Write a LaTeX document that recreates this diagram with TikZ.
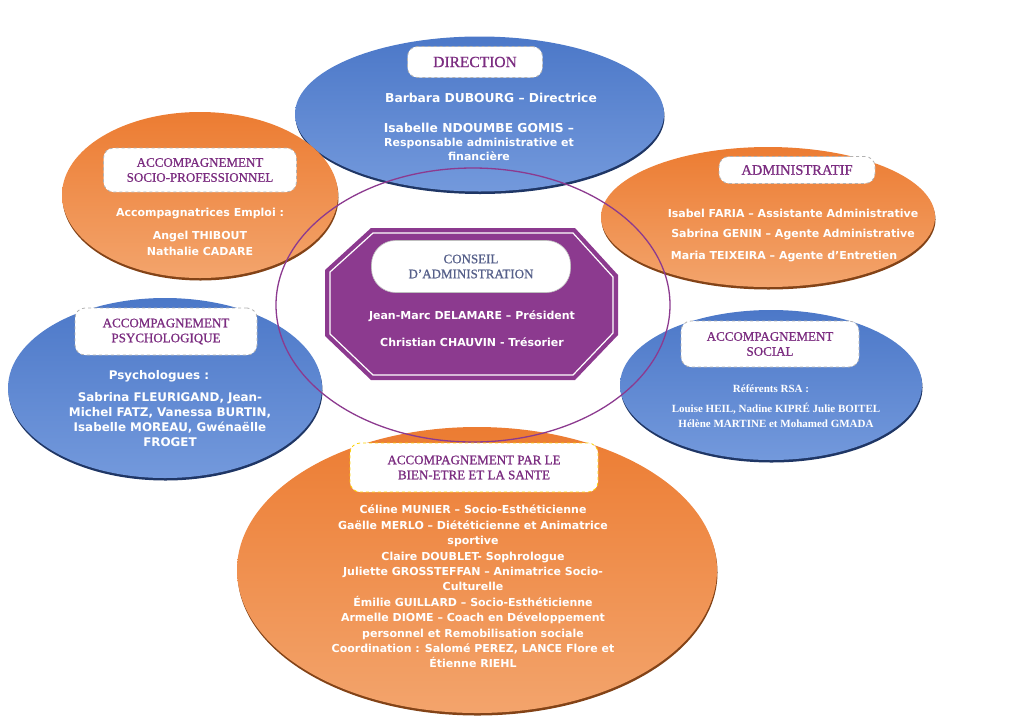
\documentclass[tikz,border=0pt]{standalone}
\usepackage{fontspec}
\setmainfont{Liberation Serif}
\newfontfamily\headfont[FakeBold=0.8]{Liberation Serif}
\newfontfamily\bodyfont{DejaVu Sans}
\usetikzlibrary{shapes.geometric,shadows}
\definecolor{blueT}{HTML}{4C78C8}
\definecolor{blueM}{HTML}{3862B8}
\definecolor{blueB}{HTML}{7399DC}
\definecolor{orT}{HTML}{EC7C32}
\definecolor{orM}{HTML}{EE7A2A}
\definecolor{orB}{HTML}{F3A46C}
\definecolor{hd}{HTML}{7B2C80}
\definecolor{cp}{HTML}{8C3A8F}
\definecolor{cdh}{HTML}{56608A}
\tikzset{
  ell/.style={ellipse, draw=none, inner sep=0pt},
  blueell/.style={ell, top color=blueT, middle color=blueM, bottom color=blueB,
    drop shadow={shadow xshift=0.5pt, shadow yshift=-2.5pt, fill=blueM!55!black, opacity=1}},
  orell/.style={ell, top color=orT, middle color=orM, bottom color=orB,
    drop shadow={shadow xshift=0.5pt, shadow yshift=-2.5pt, fill=orM!55!black, opacity=1}},
  hbox/.style={draw=gray!60, dashed, line width=0.8pt, fill=white, rounded corners=10pt,
    inner sep=0pt, align=center, text=hd, font=\headfont\fontsize{13}{15}\selectfont},
  body/.style={text=white, align=center, inner sep=0pt,
    font=\bodyfont\bfseries\fontsize{11}{15.4}\selectfont},
  sbody/.style={text=white, align=center, inner sep=0pt,
    font=\bfseries\fontsize{11}{15}\selectfont},
}
\begin{document}
\begin{tikzpicture}[x=1pt,y=-1pt]
\useasboundingbox (0,0) rectangle (1024,726);
% ellipses
\node[blueell, minimum width=369pt, minimum height=155pt] (dir) at (479.5,114) {};
\node[orell, minimum width=276pt, minimum height=166pt] (spro) at (200,195) {};
\node[orell, minimum width=334pt, minimum height=140pt] (adm) at (768,217) {};
\node[blueell, minimum width=314pt, minimum height=180pt] (psy) at (165,388) {};
\node[blueell, minimum width=302pt, minimum height=150pt] (soc) at (771,385) {};
\node[orell, minimum width=480pt, minimum height=286pt] (bien) at (477,570) {};
% big circle
\node[ellipse, draw=cp, line width=1.3pt, minimum width=394pt, minimum height=274pt, inner sep=0pt] (ring) at (473,305) {};
% octagon
\fill[cp] (371,228) -- (575,228) -- (618,275) -- (618,335) -- (575,380) -- (371,380) -- (325,336) -- (325,270) -- cycle;
\draw[white, line width=1.2pt] (373,233) -- (573,233) -- (613,277) -- (613,333) -- (573,375) -- (373,375) -- (330,334) -- (330,272) -- cycle;
% heading boxes
\node[hbox, minimum width=135pt, minimum height=31pt, font=\headfont\fontsize{15.5}{17}\selectfont] (hdir) at (475,62) {DIRECTION};
\node[hbox, minimum width=193pt, minimum height=44pt] (hspro) at (200,170) {ACCOMPAGNEMENT\\SOCIO-PROFESSIONNEL};
\node[hbox, minimum width=156pt, minimum height=27pt, font=\headfont\fontsize{14.5}{16}\selectfont] (hadm) at (797,170) {ADMINISTRATIF};
\node[hbox, draw=gray!50, solid, line width=0.6pt, rounded corners=24pt, minimum width=199pt, minimum height=52pt, text=cdh] (hca) at (471,266.5) {CONSEIL\\D’ADMINISTRATION};
\node[hbox, minimum width=182pt, minimum height=47pt] (hpsy) at (166,331.5) {ACCOMPAGNEMENT\\PSYCHOLOGIQUE};
\node[hbox, minimum width=178pt, minimum height=46pt] (hsoc) at (770,344) {ACCOMPAGNEMENT\\SOCIAL};
\node[hbox, draw=yellow!70!orange, minimum width=248pt, minimum height=49pt] (hbien) at (474,467.5) {ACCOMPAGNEMENT PAR LE\\BIEN-ETRE ET LA SANTE};
% direction text
\node[body, font=\bodyfont\bfseries\fontsize{12.3}{14}\selectfont] (d1) at (491,98) {Barbara DUBOURG – Directrice};
\node[body, font=\bodyfont\bfseries\fontsize{12.3}{14}\selectfont] (d2) at (479,128) {Isabelle NDOUMBE GOMIS –};
\node[body, font=\bodyfont\bfseries\fontsize{11}{14}\selectfont] (d3) at (479,149) {Responsable administrative et\\financière};
% socio-pro text
\node[body] (s1) at (200,214) {Accompagnatrices Emploi :};
\node[body, font=\bodyfont\bfseries\fontsize{11}{16}\selectfont] (s2) at (200,243) {Angel THIBOUT\\Nathalie CADARE};
% administratif text
\node[body] (a1) at (793,213) {Isabel FARIA – Assistante Administrative};
\node[body] (a2) at (793,235) {Sabrina GENIN – Agente Administrative};
\node[body] (a3) at (784,257) {Maria TEIXEIRA – Agente d’Entretien};
% conseil text
\node[body] (c1) at (472,316) {Jean-Marc DELAMARE – Président};
\node[body] (c2) at (472,342) {Christian CHAUVIN - Trésorier};
% psy text
\node[body, font=\bodyfont\bfseries\fontsize{11.9}{15}\selectfont] (p1) at (159,376) {Psychologues :};
\node[body, font=\bodyfont\bfseries\fontsize{11.9}{15}\selectfont] (p2) at (170,419.5) {Sabrina FLEURIGAND, Jean-\\Michel FATZ, Vanessa BURTIN,\\Isabelle MOREAU, Gwénaëlle\\FROGET};
% social text
\node[sbody] (r1) at (771,389) {Référents RSA :};
\node[sbody] (r2) at (776,415.5) {Louise HEIL, Nadine KIPRÉ Julie BOITEL\\Hélène MARTINE et Mohamed GMADA};
% bien-etre text
\node[body] (b1) at (473,586.5) {Céline MUNIER – Socio-Esthéticienne\\
Gaëlle MERLO – Diététicienne et Animatrice\\
sportive\\
Claire DOUBLET- Sophrologue\\
Juliette GROSSTEFFAN – Animatrice Socio-\\
Culturelle\\
Émilie GUILLARD – Socio-Esthéticienne\\
Armelle DIOME – Coach en Développement\\
personnel et Remobilisation sociale\\
Coordination : Salomé PEREZ, LANCE Flore et\\
Étienne RIEHL};
\end{tikzpicture}
\end{document}
